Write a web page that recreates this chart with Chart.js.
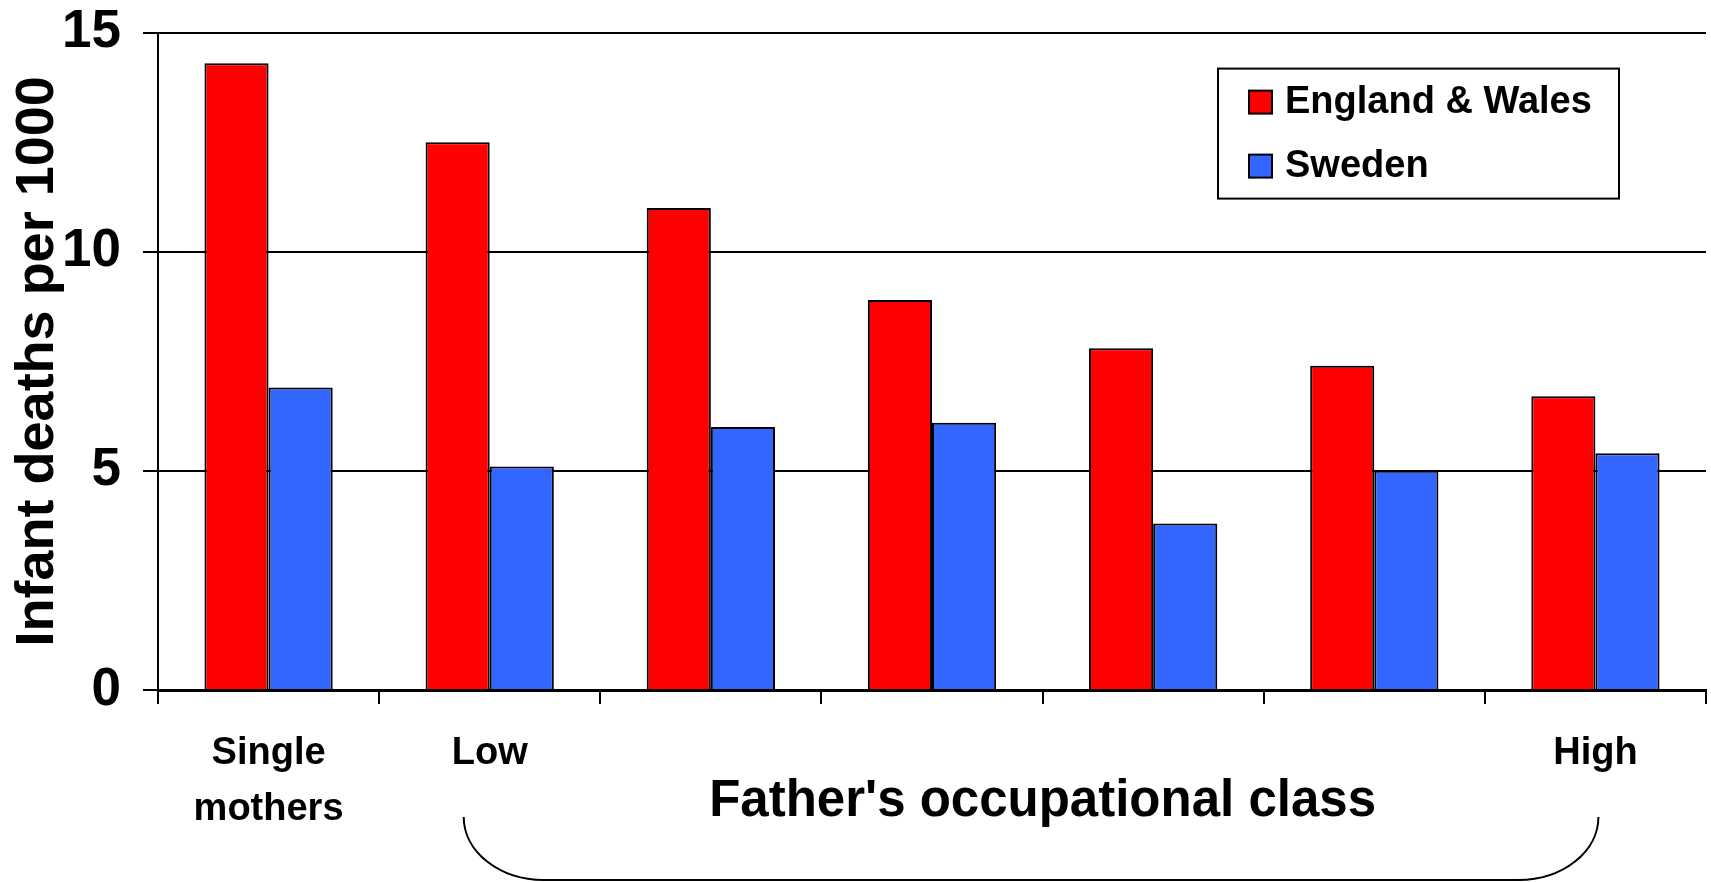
<!DOCTYPE html>
<html>
<head>
<meta charset="utf-8">
<title>Infant deaths per 1000</title>
<script src="https://cdn.jsdelivr.net/npm/chart.js@4.4.0/dist/chart.umd.min.js"></script>
<style>
  body { margin: 0; background: #fff; }
  #wrap { width: 1711px; height: 882px; }
</style>
</head>
<body>
<div id="wrap"><canvas id="myChart" width="1711" height="882"></canvas></div>
<script>
const categories = ['Single mothers', 'Class 1 (low)', 'Class 2', 'Class 3', 'Class 4', 'Class 5', 'Class 6 (high)'];
const tickLabels = [['Single', 'mothers'], 'Low', '', '', '', '', 'High'];
const englandWales = [14.3, 12.5, 11.0, 8.9, 7.8, 7.4, 6.7];
const sweden = [6.9, 5.1, 6.0, 6.1, 3.8, 5.0, 5.4];
const yTicks = [0, 5, 10, 15];
const groupTitle = "Father's occupational class";

Chart.defaults.font.family = "'Liberation Sans', Arial, sans-serif";
Chart.defaults.font.weight = 'bold';
Chart.defaults.color = 'black';

// legend drawn inside the plot, top right, with a box round it
const boxLegend = {
  id: 'boxLegend',
  afterDraw(chart) {
    const ctx = chart.ctx;
    const area = chart.chartArea;
    const left = area.right - 488, top = area.top + 36;
    const w = 401, h = 130;
    ctx.save();
    ctx.fillStyle = 'white';
    ctx.fillRect(left, top, w, h);
    ctx.strokeStyle = 'black';
    ctx.lineWidth = 2;
    ctx.strokeRect(left, top, w, h);
    ctx.font = "bold 38px 'Liberation Sans', Arial, sans-serif";
    ctx.textBaseline = 'middle';
    chart.data.datasets.forEach((ds, i) => {
      const cy = top + 33 + i * 64;
      ctx.fillStyle = ds.backgroundColor;
      ctx.fillRect(left + 31, cy - 11, 23, 23);
      ctx.strokeRect(left + 31, cy - 11, 23, 23);
      ctx.fillStyle = 'black';
      ctx.fillText(ds.label, left + 67, cy + 1);
    });
    ctx.restore();
  }
};

// bracket under Low ... High with its caption
const classBracket = {
  id: 'classBracket',
  afterDraw(chart) {
    const ctx = chart.ctx;
    const x = chart.scales.x;
    const lowX = x.getPixelForValue(1);
    const highX = x.getPixelForValue(6);
    const x1 = lowX - 26, x2 = highX + 3;
    const yTop = chart.chartArea.bottom + 127;
    const yBot = chart.height - 2;
    const rx = 80, ry = yBot - yTop;
    ctx.save();
    ctx.strokeStyle = 'black';
    ctx.lineWidth = 2;
    ctx.beginPath();
    ctx.moveTo(x1, yTop);
    ctx.ellipse(x1 + rx, yTop, rx, ry, 0, Math.PI, Math.PI / 2, true);
    ctx.lineTo(x2 - rx, yBot);
    ctx.ellipse(x2 - rx, yTop, rx, ry, 0, Math.PI / 2, 0, true);
    ctx.stroke();
    ctx.fillStyle = 'black';
    ctx.font = "bold 51px 'Liberation Sans', Arial, sans-serif";
    ctx.textAlign = 'center';
    ctx.textBaseline = 'alphabetic';
    ctx.fillText(groupTitle, (lowX + highX) / 2, chart.chartArea.bottom + 126);
    ctx.restore();
  }
};

const data = {
  labels: categories,
  datasets: [{
    label: 'England & Wales',
    data: englandWales,
    backgroundColor: '#ff0000',
    borderColor: 'black',
    borderWidth: 2,
    categoryPercentage: 0.58,
    barPercentage: 1.0
  }, {
    label: 'Sweden',
    data: sweden,
    backgroundColor: '#3366ff',
    borderColor: 'black',
    borderWidth: 2,
    categoryPercentage: 0.58,
    barPercentage: 1.0
  }]
};

const config = {
  type: 'bar',
  data: data,
  options: {
    responsive: false,
    animation: false,
    layout: {
      padding: { top: 0, right: 5, bottom: 0, left: 0 }
    },
    scales: {
      x: {
        afterFit: (scale) => { scale.height = 192; },
        border: { color: 'black', width: 3 },
        grid: {
          offset: true,
          lineWidth: 2,
          color: (c) => c.index === categories.length ? 'black' : 'rgba(0,0,0,0)',
          tickColor: 'black',
          tickLength: 14
        },
        ticks: {
          padding: 22,
          maxRotation: 0,
          autoSkip: false,
          font: { size: 38, weight: 'bold', lineHeight: 1.47 },
          callback: (v, i) => tickLabels[i]
        }
      },
      y: {
        min: 0,
        max: 15,
        afterFit: (scale) => { scale.width = 158; },
        afterBuildTicks: (scale) => { scale.ticks = yTicks.map(v => ({ value: v })); },
        border: { color: 'black', width: 2 },
        grid: {
          color: 'black',
          lineWidth: 2,
          tickLength: 15
        },
        ticks: {
          padding: 22,
          // small line height keeps the plot top close to the canvas edge
          font: { size: 53, weight: 'bold', lineHeight: 0.4 }
        },
        title: {
          display: true,
          text: 'Infant deaths per 1000',
          font: { size: 54, weight: 'bold' },
          padding: { top: 6, bottom: 0 }
        }
      }
    },
    plugins: {
      legend: { display: false },
      tooltip: { enabled: false }
    }
  },
  plugins: [boxLegend, classBracket]
};

let myChart = new Chart(document.getElementById('myChart'), config);
</script>
</body>
</html>
